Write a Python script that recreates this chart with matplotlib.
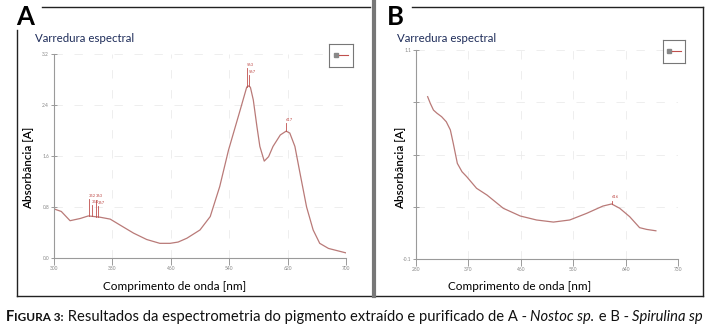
import numpy as np
import matplotlib
matplotlib.use("Agg")
import matplotlib.pyplot as plt
from matplotlib.lines import Line2D

plt.rcParams['font.family'] = ['Lato', 'DejaVu Sans']

# Painel A - Nostoc sp.
nm_a = [300, 310, 322, 336, 347, 363, 377, 390, 409, 427, 445, 459, 470, 482, 500,
        514, 527, 539, 555, 564, 566, 569, 573, 578, 582, 588, 594, 600, 610, 618,
        623, 630, 637, 646, 655, 664, 676, 700]
abs_a = [0.77, 0.73, 0.585, 0.62, 0.66, 0.64, 0.61, 0.52, 0.39, 0.29, 0.23, 0.23, 0.25, 0.31, 0.44,
         0.65, 1.12, 1.69, 2.32, 2.68, 2.70, 2.68, 2.48, 2.06, 1.75, 1.52, 1.59, 1.75, 1.93, 1.99,
         1.96, 1.75, 1.33, 0.80, 0.44, 0.23, 0.15, 0.08]
peaks_a = [(348, '352', 0.27), (352, '354', 0.17), (357, '363', 0.27), (360, '367', 0.17),
           (564, '563', 0.30), (567, '567', 0.17), (618, '617', 0.12)]
xticks_a = [300, 380, 460, 540, 620, 700]
yticks_a = [0.0, 0.8, 1.6, 2.4, 3.2]

# Painel B - Spirulina sp
nm_b = [300, 304.5, 310, 316, 324, 332, 339, 344, 351, 359, 367, 384, 402, 430, 459,
        487, 516, 544, 573, 601, 616, 630, 647, 664, 676, 692]
abs_b = [0.832, 0.794, 0.755, 0.737, 0.717, 0.688, 0.641, 0.564, 0.449, 0.401, 0.373, 0.306,
         0.267, 0.191, 0.147, 0.124, 0.112, 0.124, 0.162, 0.204, 0.216, 0.191, 0.143, 0.080,
         0.070, 0.062]
peaks_b = [(616, '616', 0.05)]
xticks_b = [280, 370, 460, 550, 640, 730]
yticks_b = [-0.1, 0.2, 0.5, 0.8, 1.1]
ylabels_b = ['-0.1', '', '', '', '1.1']

line_col = '#b97a78'
peak_col = '#c0504d'
W, H = 715, 333

fig = plt.figure(figsize=(W / 100, H / 100), dpi=100)


def px(x, y):
    return x / W, 1 - y / H


def setup(ax, xt, yt, ylab):
    ax.set_xticks(xt)
    ax.set_xticklabels([str(v) for v in xt])
    ax.set_yticks(yt)
    ax.set_yticklabels(ylab)
    ax.set_xlim(xt[0], xt[-1])
    ax.set_ylim(yt[0], yt[-1])
    for s in ['top', 'right']:
        ax.spines[s].set_visible(False)
    for s in ['left', 'bottom']:
        ax.spines[s].set_color('#9a9a9a')
        ax.spines[s].set_linewidth(0.8)
    ax.tick_params(axis='x', direction='out', length=5, width=0.7, colors='#9a9a9a',
                   labelsize=3.5, labelcolor='#888888', pad=1)
    ax.tick_params(axis='y', direction='inout', length=5, width=0.7, colors='#9a9a9a',
                   labelsize=3.5, labelcolor='#888888', pad=1)
    ax.grid(True, color='#ebebeb', linewidth=0.6, linestyle=(0, (10, 14)))
    ax.set_axisbelow(True)


def peaks(ax, nm, ab, plist, ymax):
    for x, lab, up in plist:
        y = np.interp(x, nm, ab)
        top = y + up * ymax / 3.2
        ax.plot([x, x], [y, top], color=peak_col, linewidth=0.6)
        ax.text(x, top + 0.02 * ymax / 3.2, lab, color=peak_col, fontsize=3,
                ha='left', va='bottom')


def legend_box(x0, y0, x1, y1):
    l, t = px(x0, y0)
    r, b = px(x1, y1)
    ax = fig.add_axes([l, b, r - l, t - b])
    ax.set_xticks([])
    ax.set_yticks([])
    for s in ax.spines.values():
        s.set_color('#777777')
        s.set_linewidth(0.8)
    ax.set_xlim(0, 1)
    ax.set_ylim(0, 1)
    ax.add_patch(plt.Rectangle((0.2, 0.42), 0.18, 0.2, color='#888888'))
    ax.plot([0.42, 0.8], [0.52, 0.52], color=peak_col, linewidth=0.8)


# eixos A
l, t = px(54, 54)
r, b = px(346, 258)
axA = fig.add_axes([l, b, r - l, t - b])
setup(axA, xticks_a, yticks_a, [f'{v:.1f}' for v in yticks_a])
axA.plot(nm_a, abs_a, color=line_col, linewidth=0.9, solid_joinstyle='round')
peaks(axA, nm_a, abs_a, peaks_a, 3.2)

# eixos B
l, t = px(416, 50)
r, b = px(678, 259)
axB = fig.add_axes([l, b, r - l, t - b])
setup(axB, xticks_b, yticks_b, ylabels_b)
axB.plot(nm_b, abs_b, color=line_col, linewidth=0.9, solid_joinstyle='round')
peaks(axB, nm_b, abs_b, peaks_b, 1.2)

legend_box(329, 44, 353, 67)
legend_box(663, 40, 685, 63)

# molduras
frame = dict(color='#222222', linewidth=1.0)
fig.add_artist(Line2D(*zip(px(17, 30), px(17, 296)), **frame))
fig.add_artist(Line2D(*zip(px(42, 7), px(370, 7)), **frame))
fig.add_artist(Line2D(*zip(px(412, 7), px(703, 7)), **frame))
fig.add_artist(Line2D(*zip(px(703, 7), px(703, 296)), **frame))
fig.add_artist(Line2D(*zip(px(17, 296), px(703, 296)), **frame))
fig.add_artist(Line2D(*zip(px(374, 0), px(374, 296)), color='#777777', linewidth=3))

# textos
for x, letter in [(16, 'A'), (387, 'B')]:
    fig.text(*px(x, 25), letter, fontsize=18.5, fontweight='bold', ha='left', va='baseline')
for x in [35, 397]:
    fig.text(*px(x, 38), 'Varredura espectral', fontsize=8.3, color='#1f2d5a', ha='left', va='center')
for x in [29, 401]:
    fig.text(*px(x, 168), 'Absorbância [A]', fontsize=8.4, fontweight='semibold', rotation=90,
             ha='center', va='center')
for x in [175, 520]:
    fig.text(*px(x, 287), 'Comprimento de onda [nm]', fontsize=8.5, ha='center', va='center')

# legenda da figura
fig.canvas.draw()
renderer = fig.canvas.get_renderer()
parts = [('F', 10.6, 'bold', 'normal'), ('IGURA 3:', 8.5, 'bold', 'normal'),
         (' Resultados da espectrometria do pigmento extraído e purificado de A - ', 10.6, 'normal', 'normal'),
         ('Nostoc sp.', 10.6, 'normal', 'italic'), (' e B - ', 10.6, 'normal', 'normal'),
         ('Spirulina sp', 10.6, 'normal', 'italic')]
xcur = 6
for txt, size, weight, style in parts:
    t = fig.text(*px(xcur, 321), txt, fontsize=size, fontweight=weight, fontstyle=style,
                 ha='left', va='baseline', color='#111111')
    bb = t.get_window_extent(renderer)
    xcur += bb.width

fig.savefig('out.png', dpi=100)
